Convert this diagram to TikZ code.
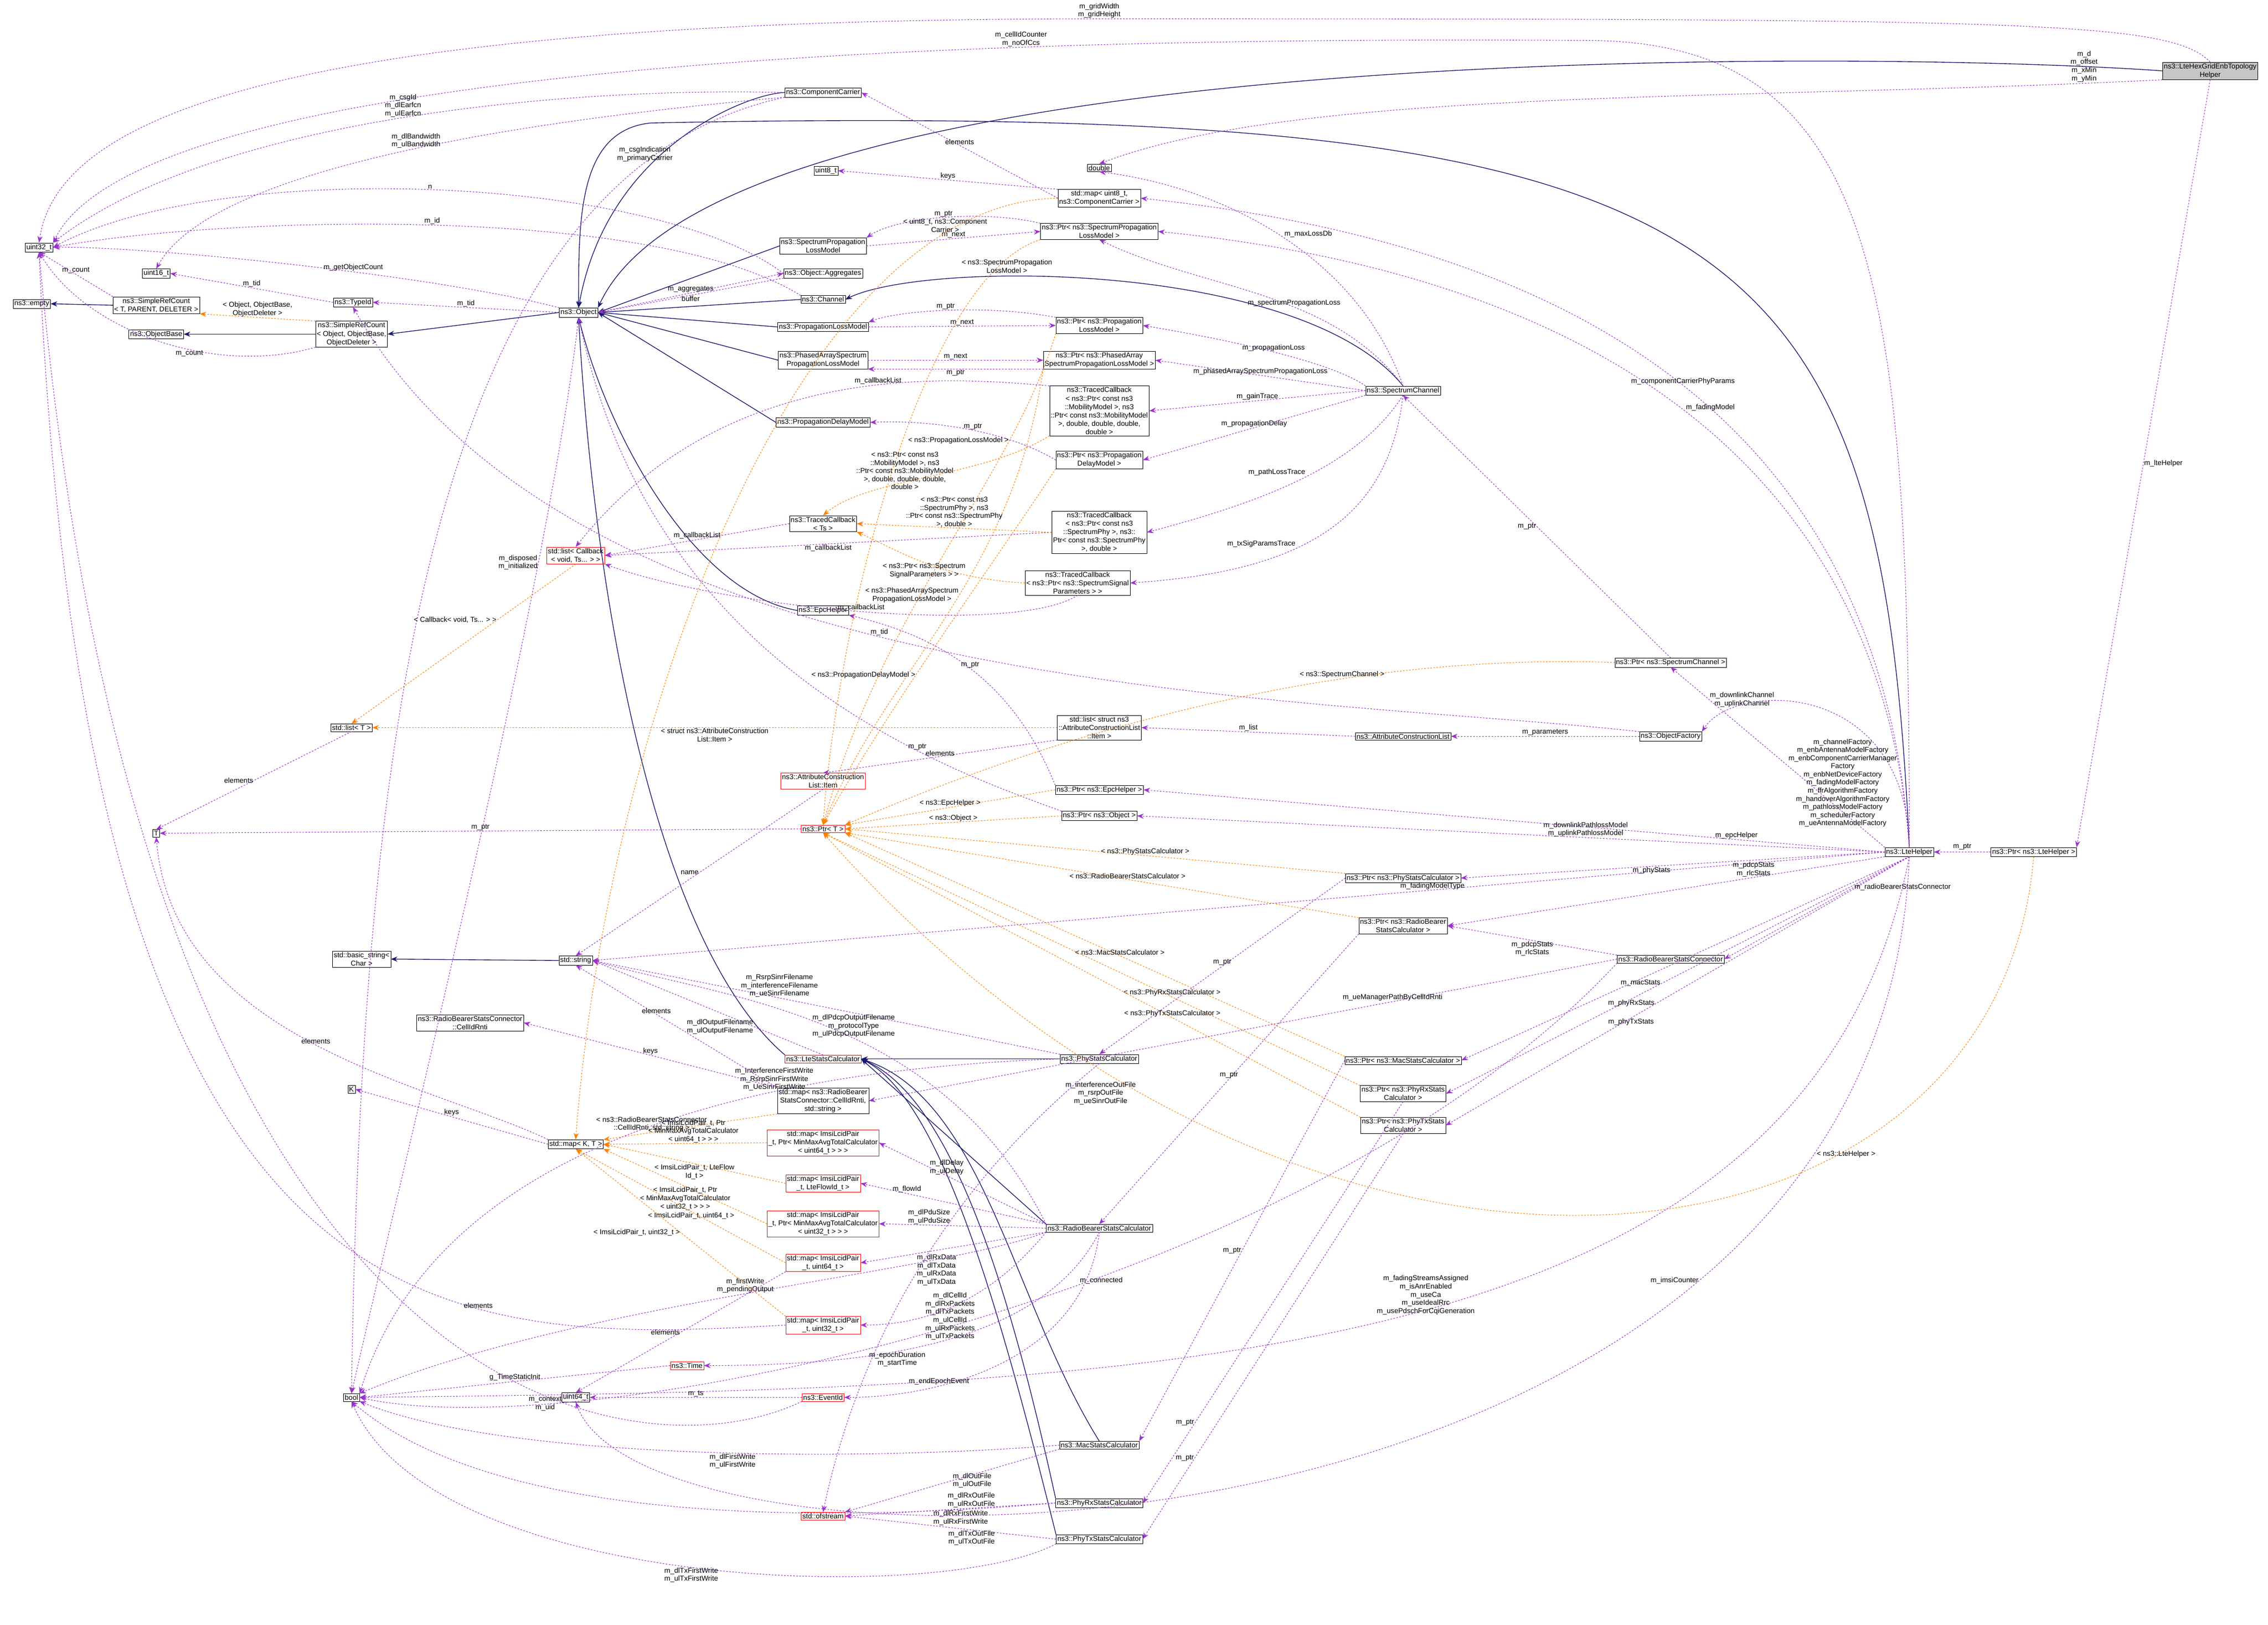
\documentclass[tikz,border=0pt]{standalone}
\usepackage{fontspec}
\setmainfont{Liberation Sans}
\usetikzlibrary{arrows.meta,positioning}
\tikzset{
  cls/.style={draw, fill=white, align=center, inner sep=2.5pt, font=\fontsize{14}{16.5}\selectfont},
  redcls/.style={cls, draw=red},
  topcls/.style={cls, fill=gray!45},
  inh/.style={draw={rgb,255:red,25;green,25;blue,112}, line width=1.4pt, -{Stealth[length=13pt,width=10pt]}},
  use/.style={draw={rgb,255:red,154;green,50;blue,205}, dashed, line width=1.1pt, -{Stealth[length=13pt,width=10pt]}},
  tpl/.style={draw=orange, dashed, line width=1.1pt, -{Stealth[length=13pt,width=10pt]}},
  lbl/.style={font=\fontsize{14}{16}\selectfont, align=center, inner sep=1pt}
}
\begin{document}
\begin{tikzpicture}[x=1mm, y=-1mm]
\useasboundingbox (0,0) rectangle (1568,1123);

% left column
\node[topcls] (hex) at (1528,49) {ns3::LteHexGridEnbTopology\\Helper};
\node[cls] (u32) at (27,171) {uint32\_t};
\node[cls] (empty) at (22,210) {ns3::empty};
\node[cls] (u16) at (108,189) {uint16\_t};
\node[cls] (srcT) at (108,211) {ns3::SimpleRefCount\\< T, PARENT, DELETER >};
\node[cls] (obase) at (108,231) {ns3::ObjectBase};
\node[cls] (srcO) at (243,231) {ns3::SimpleRefCount\\< Object, ObjectBase,\\ObjectDeleter >};
\node[cls] (tid) at (244,209) {ns3::TypeId};
\node[cls] (obj) at (400,216) {ns3::Object};
\node[cls] (lstT) at (243,503) {std::list< T >};
\node[cls] (T) at (108,576) {T};
\node[cls] (bstr) at (250,663) {std::basic\_string<\\Char >};
\node[cls] (str) at (398,664) {std::string};
\node[cls] (cir) at (325,707) {ns3::RadioBearerStatsConnector\\::CellIdRnti};
\node[cls] (K) at (243,753) {K};
\node[cls] (mapKT) at (398,791) {std::map< K, T >};
\node[cls] (bool) at (243,966) {bool};
\node[cls] (u64) at (398,966) {uint64\_t};
\node[redcls] (cblist) at (398,384) {std::list< Callback\\< void, Ts... > >};
\node[redcls] (time) at (475,944) {ns3::Time};

% middle column
\node[cls] (cc) at (569,64) {ns3::ComponentCarrier};
\node[cls] (u8) at (571,118) {uint8\_t};
\node[cls] (splm) at (569,170) {ns3::SpectrumPropagation\\LossModel};
\node[cls] (aggr) at (569,189) {ns3::Object::Aggregates};
\node[cls] (chan) at (569,207) {ns3::Channel};
\node[cls] (plm) at (569,226) {ns3::PropagationLossModel};
\node[cls] (pa) at (569,249) {ns3::PhasedArraySpectrum\\PropagationLossModel};
\node[cls] (pdm) at (569,292) {ns3::PropagationDelayModel};
\node[cls] (tcTs) at (569,362) {ns3::TracedCallback\\< Ts >};
\node[cls] (epc) at (569,422) {ns3::EpcHelper};
\node[redcls] (acli) at (569,540) {ns3::AttributeConstruction\\List::Item};
\node[redcls] (ptrT) at (569,573) {ns3::Ptr< T >};
\node[redcls] (lsc) at (569,732) {ns3::LteStatsCalculator};
\node[cls] (mapCir) at (569,761) {std::map< ns3::RadioBearer\\StatsConnector::CellIdRnti,\\std::string >};
\node[redcls] (mapMM64) at (569,790) {std::map< ImsiLcidPair\\\_t, Ptr< MinMaxAvgTotalCalculator\\< uint64\_t > > >};
\node[redcls] (mapFlow) at (569,818) {std::map< ImsiLcidPair\\\_t, LteFlowId\_t >};
\node[redcls] (mapMM32) at (569,846) {std::map< ImsiLcidPair\\\_t, Ptr< MinMaxAvgTotalCalculator\\< uint32\_t > > >};
\node[redcls] (map64) at (569,873) {std::map< ImsiLcidPair\\\_t, uint64\_t >};
\node[redcls] (map32) at (569,916) {std::map< ImsiLcidPair\\\_t, uint32\_t >};
\node[redcls] (evt) at (569,966) {ns3::EventId};
\node[redcls] (ofs) at (569,1048) {std::ofstream};

% right-middle column
\node[cls] (dbl) at (760,116) {double};
\node[cls] (mapCC) at (760,137) {std::map< uint8\_t,\\ns3::ComponentCarrier >};
\node[cls] (psplm) at (760,160) {ns3::Ptr< ns3::SpectrumPropagation\\LossModel >};
\node[cls] (pplm) at (760,225) {ns3::Ptr< ns3::Propagation\\LossModel >};
\node[cls] (ppa) at (760,249) {ns3::Ptr< ns3::PhasedArray\\SpectrumPropagationLossModel >};
\node[cls] (tcMob) at (760,284) {ns3::TracedCallback\\< ns3::Ptr< const ns3\\::MobilityModel >, ns3\\::Ptr< const ns3::MobilityModel\\>, double, double, double,\\double >};
\node[cls] (ppdm) at (760,318) {ns3::Ptr< ns3::Propagation\\DelayModel >};
\node[cls] (tcPhy) at (760,368) {ns3::TracedCallback\\< ns3::Ptr< const ns3\\::SpectrumPhy >, ns3::\\Ptr< const ns3::SpectrumPhy\\>, double >};
\node[cls] (tcSig) at (745,403) {ns3::TracedCallback\\< ns3::Ptr< ns3::SpectrumSignal\\Parameters > >};
\node[cls] (lstAcl) at (760,503) {std::list< struct ns3\\::AttributeConstructionList\\::Item >};
\node[cls] (pepc) at (760,546) {ns3::Ptr< ns3::EpcHelper >};
\node[cls] (pobj) at (760,564) {ns3::Ptr< ns3::Object >};
\node[cls] (phys) at (760,732) {ns3::PhyStatsCalculator};
\node[cls] (rbsc) at (760,849) {ns3::RadioBearerStatsCalculator};
\node[cls] (macs) at (760,999) {ns3::MacStatsCalculator};
\node[cls] (phyrx) at (760,1039) {ns3::PhyRxStatsCalculator};
\node[cls] (phytx) at (760,1064) {ns3::PhyTxStatsCalculator};

% right column
\node[cls] (sch) at (970,270) {ns3::SpectrumChannel};
\node[cls] (acl) at (970,509) {ns3::AttributeConstructionList};
\node[cls] (pphys) at (970,607) {ns3::Ptr< ns3::PhyStatsCalculator >};
\node[cls] (prbsc) at (970,640) {ns3::Ptr< ns3::RadioBearer\\StatsCalculator >};
\node[cls] (pmacs) at (970,733) {ns3::Ptr< ns3::MacStatsCalculator >};
\node[cls] (pphyrx) at (970,756) {ns3::Ptr< ns3::PhyRxStats\\Calculator >};
\node[cls] (pphytx) at (970,778) {ns3::Ptr< ns3::PhyTxStats\\Calculator >};
\node[cls] (psch) at (1155,458) {ns3::Ptr< ns3::SpectrumChannel >};
\node[cls] (ofac) at (1155,509) {ns3::ObjectFactory};
\node[cls] (rbscon) at (1155,663) {ns3::RadioBearerStatsConnector};
\node[cls] (lte) at (1320,589) {ns3::LteHelper};
\node[cls] (plte) at (1406,589) {ns3::Ptr< ns3::LteHelper >};

% inheritance
\draw[inh] (hex.west) .. controls (1300,35) and (500,25) .. (obj.north east);
\draw[inh] (lte.north) .. controls (1300,150) and (1200,70) .. (450,85) .. controls (400,90) and (400,150) .. (obj.north);
\draw[inh] (cc.west) .. controls (520,64) and (420,100) .. (obj.north);
\draw[inh] (splm.west) -- (obj.east);
\draw[inh] (chan.west) -- (obj.east);
\draw[inh] (plm.west) -- (obj.east);
\draw[inh] (pa.west) -- (obj.east);
\draw[inh] (pdm.west) -- (obj.east);
\draw[inh] (epc.west) .. controls (480,410) and (420,300) .. (obj.south);
\draw[inh] (lsc.north west) .. controls (450,650) and (410,400) .. (obj.south);
\draw[inh] (sch.north) .. controls (900,180) and (640,180) .. (chan.east);
\draw[inh] (obj.west) -- (srcO.east);
\draw[inh] (srcO.west) -- (obase.east);
\draw[inh] (srcT.west) -- (empty.east);
\draw[inh] (str.west) -- (bstr.east);
\draw[inh] (phys.west) -- (lsc.east);
\draw[inh] (rbsc.north west) -- (lsc.east);
\draw[inh] (macs.north) .. controls (700,900) and (680,760) .. (lsc.east);
\draw[inh] (phyrx.north west) .. controls (700,900) and (660,760) .. (lsc.east);
\draw[inh] (phytx.north west) .. controls (690,900) and (650,760) .. (lsc.east);

% usage
\draw[use] (hex.north) .. controls (1500,14) and (1400,13) .. node[lbl, pos=1, above] {m\_gridWidth\\m\_gridHeight} (760,13) .. controls (200,13) and (40,80) .. (u32.north);
\draw[use] (hex.south west) .. controls (1200,70) and (900,60) .. node[lbl, pos=0.05, above left] {m\_d\\m\_offset\\m\_xMin\\m\_yMin} (dbl.north);
\draw[use] (hex.south) -- node[lbl, right, pos=0.5] {m\_lteHelper} (plte.north east);
\draw[use] (lte.north) .. controls (1320,200) and (1300,30) .. (1100,28) .. controls (700,25) and (100,40) .. node[lbl, pos=0.3, above] {m\_cellIdCounter\\m\_noOfCcs} (u32.north east);
\draw[use] (cc.west) .. controls (400,60) and (150,80) .. node[lbl, pos=0.5, above] {m\_csgId\\m\_dlEarfcn\\m\_ulEarfcn} (u32.north east);
\draw[use] (cc.south west) .. controls (400,80) and (150,110) .. node[lbl, pos=0.5, above] {m\_dlBandwidth\\m\_ulBandwidth} (u16.north);
\draw[use] (cc.south west) .. controls (300,120) and (250,500) .. node[lbl, pos=0.15, above] {m\_csgIndication\\m\_primaryCarrier} (bool.north);
\draw[use] (aggr.west) .. controls (450,120) and (150,110) .. node[lbl, pos=0.5, above] {n} (u32.east);
\draw[use] (chan.north west) .. controls (450,140) and (150,150) .. node[lbl, pos=0.5, above] {m\_id} (u32.east);
\draw[use] (obj.north west) .. controls (300,190) and (100,170) .. node[lbl, pos=0.4, above] {m\_getObjectCount} (u32.east);
\draw[use] (obj.west) -- node[lbl, above] {m\_tid} (tid.east);
\draw[use] (obj.east) -- node[lbl, above] {m\_aggregates} (aggr.west);
\draw[use] (aggr.south west) -- node[lbl, below] {buffer} (obj.east);
\draw[use] (tid.west) -- node[lbl, above] {m\_tid} (u16.east);
\draw[use] (srcT.north west) -- node[lbl, above] {m\_count} (u32.south);
\draw[use] (srcO.south west) .. controls (150,260) and (60,230) .. node[lbl, pos=0.4, below] {m\_count} (u32.south);
\draw[use] (obj.south) .. controls (380,400) and (280,800) .. node[lbl, pos=0.25, left] {m\_disposed\\m\_initialized} (bool.north);
\draw[use] (mapCC.west) -- node[lbl, above] {elements} (cc.east);
\draw[use] (mapCC.north west) -- node[lbl, above] {keys} (u8.east);
\draw[use] (splm.east) -- node[lbl, above] {m\_next} (psplm.west);
\draw[use] (psplm.north west) .. controls (680,145) and (620,150) .. node[lbl, above] {m\_ptr} (splm.north east);
\draw[use] (plm.east) -- node[lbl, above] {m\_next} (pplm.west);
\draw[use] (pplm.north west) .. controls (680,210) and (620,215) .. node[lbl, above] {m\_ptr} (plm.north east);
\draw[use] (pa.east) -- node[lbl, above] {m\_next} (ppa.west);
\draw[use] (ppa.south west) -- node[lbl, below] {m\_ptr} (pa.south east);
\draw[use] (ppdm.west) .. controls (700,300) and (650,290) .. node[lbl, above] {m\_ptr} (pdm.east);
\draw[use] (sch.north) .. controls (940,180) and (850,130) .. node[lbl, pos=0.5, above right] {m\_maxLossDb} (dbl.south);
\draw[use] (sch.north) .. controls (920,200) and (830,200) .. node[lbl, pos=0.4, above] {m\_spectrumPropagationLoss} (psplm.south);
\draw[use] (sch.north west) .. controls (920,250) and (850,235) .. node[lbl, above] {m\_propagationLoss} (pplm.east);
\draw[use] (sch.west) -- node[lbl, above] {m\_phasedArraySpectrumPropagationLoss} (ppa.east);
\draw[use] (sch.west) -- node[lbl, above] {m\_gainTrace} (tcMob.east);
\draw[use] (sch.south west) -- node[lbl, above] {m\_propagationDelay} (ppdm.east);
\draw[use] (sch.south) .. controls (940,320) and (880,345) .. node[lbl, above left] {m\_pathLossTrace} (tcPhy.east);
\draw[use] (sch.south) .. controls (960,360) and (900,395) .. node[lbl, pos=0.6, above left] {m\_txSigParamsTrace} (tcSig.east);
\draw[use] (tcMob.north west) .. controls (650,260) and (500,250) .. node[lbl, pos=0.4, above] {m\_callbackList} (cblist.north);
\draw[use] (tcTs.west) -- node[lbl, above] {m\_callbackList} (cblist.east);
\draw[use] (tcPhy.west) -- node[lbl, below] {m\_callbackList} (cblist.east);
\draw[use] (tcSig.south) .. controls (700,440) and (500,420) .. node[lbl, pos=0.5, above] {m\_callbackList} (cblist.south east);
\draw[use] (psch.north) -- node[lbl, pos=0.5, left] {m\_ptr} (sch.south);
\draw[use] (lte.north west) -- node[lbl, pos=0.82, right] {m\_downlinkChannel\\m\_uplinkChannel} (psch.south);
\draw[use] (lte.north) .. controls (1318,470) and (1200,470) .. node[lbl, pos=0.15, anchor=east] {m\_channelFactory\\m\_enbAntennaModelFactory\\m\_enbComponentCarrierManager\\Factory\\m\_enbNetDeviceFactory\\m\_fadingModelFactory\\m\_ffrAlgorithmFactory\\m\_handoverAlgorithmFactory\\m\_pathlossModelFactory\\m\_schedulerFactory\\m\_ueAntennaModelFactory} (ofac.north east);
\draw[use] (ofac.north west) .. controls (900,480) and (400,485) .. node[lbl, pos=0.55, above] {m\_tid} (tid.south);
\draw[use] (ofac.west) -- node[lbl, above] {m\_parameters} (acl.east);
\draw[use] (acl.west) -- node[lbl, above] {m\_list} (lstAcl.east);
\draw[use] (lstAcl.south west) -- node[lbl, above] {elements} (acli.north);
\draw[use] (acli.south) -- node[lbl, left] {name} (str.north);
\draw[use] (lstT.south) -- node[lbl, left] {elements} (T.north);
\draw[use] (ptrT.west) -- node[lbl, above] {m\_ptr} (T.east);
\draw[use] (pepc.north west) .. controls (700,470) and (650,440) .. node[lbl, above] {m\_ptr} (epc.south east);
\draw[use] (pobj.north west) .. controls (650,530) and (450,460) .. node[lbl, pos=0.3, above] {m\_ptr} (obj.south);
\draw[use] (lte.west) -- node[lbl, above, pos=0.2] {m\_epcHelper} (pepc.east);
\draw[use] (lte.west) -- node[lbl, above, pos=0.4] {m\_downlinkPathlossModel\\m\_uplinkPathlossModel} (pobj.east);
\draw[use] (lte.west) -- node[lbl, above, pos=0.35] {m\_fadingModelType} (str.east);
\draw[use] (lte.west) -- node[lbl, below, pos=0.55] {m\_phyStats} (pphys.east);
\draw[use] (lte.south west) -- node[lbl, above, pos=0.3] {m\_pdcpStats\\m\_rlcStats} (prbsc.east);
\draw[use] (lte.south) -- node[lbl, right, pos=0.3] {m\_radioBearerStatsConnector} (rbscon.east);
\draw[use] (lte.south) -- node[lbl, below, pos=0.6] {m\_macStats} (pmacs.east);
\draw[use] (lte.south) -- node[lbl, below, pos=0.6] {m\_phyRxStats} (pphyrx.east);
\draw[use] (lte.south) -- node[lbl, below, pos=0.6] {m\_phyTxStats} (pphytx.east);
\draw[use] (lte.north) .. controls (1300,300) and (1100,170) .. node[lbl, pos=0.5, above] {m\_componentCarrierPhyParams} (mapCC.east);
\draw[use] (lte.north) .. controls (1300,320) and (1100,190) .. node[lbl, pos=0.5, above right] {m\_fadingModel} (psplm.east);
\draw[use] (lte.south) .. controls (1250,950) and (800,960) .. node[lbl, pos=0.45, left] {m\_fadingStreamsAssigned\\m\_isAnrEnabled\\m\_useCa\\m\_useIdealRrc\\m\_usePdschForCqiGeneration} (bool.east);
\draw[use] (lte.south) .. controls (1300,1100) and (450,1110) .. node[lbl, pos=0.25, left] {m\_imsiCounter} (u64.south);
\draw[use] (plte.west) -- node[lbl, above=3pt] {m\_ptr} (lte.east);
\draw[use] (rbscon.north west) -- node[lbl, below] {m\_pdcpStats\\m\_rlcStats} (prbsc.east);
\draw[use] (rbscon.west) -- node[lbl, above, pos=0.3] {m\_ueManagerPathByCellIdRnti} (mapCir.east);
\draw[use] (rbscon.south west) .. controls (900,900) and (400,1000) .. node[lbl, pos=0.4, below] {m\_connected} (bool.east);
\draw[use] (pphys.west) -- node[lbl, above] {m\_ptr} (phys.north);
\draw[use] (prbsc.south west) -- node[lbl, above] {m\_ptr} (rbsc.north);
\draw[use] (pmacs.west) -- node[lbl, left, pos=0.5] {m\_ptr} (macs.north east);
\draw[use] (pphyrx.south) -- node[lbl, left, pos=0.8] {m\_ptr} (phyrx.east);
\draw[use] (pphytx.south) -- node[lbl, left, pos=0.8] {m\_ptr} (phytx.east);
\draw[use] (lsc.north) -- node[lbl, left, pos=0.3] {m\_dlOutputFilename\\m\_ulOutputFilename} (str.east);
\draw[use] (phys.north west) -- node[lbl, above, pos=0.6] {m\_RsrpSinrFilename\\m\_interferenceFilename\\m\_ueSinrFilename} (str.east);
\draw[use] (phys.west) .. controls (500,740) and (300,800) .. node[lbl, pos=0.3, above] {m\_InterferenceFirstWrite\\m\_RsrpSinrFirstWrite\\m\_UeSinrFirstWrite} (bool.north east);
\draw[use] (phys.south) .. controls (680,800) and (600,900) .. node[lbl, pos=0.1, right] {m\_interferenceOutFile\\m\_rsrpOutFile\\m\_ueSinrOutFile} (ofs.north);
\draw[use] (rbsc.north west) .. controls (650,700) and (500,690) .. node[lbl, pos=0.45, above] {m\_dlPdcpOutputFilename\\m\_protocolType\\m\_ulPdcpOutputFilename} (str.east);
\draw[use] (rbsc.north west) -- node[lbl, right, pos=0.7] {m\_dlDelay\\m\_ulDelay} (mapMM64.east);
\draw[use] (rbsc.north west) -- node[lbl, above, pos=0.75] {m\_flowId} (mapFlow.east);
\draw[use] (rbsc.west) -- node[lbl, above, pos=0.7] {m\_dlPduSize\\m\_ulPduSize} (mapMM32.east);
\draw[use] (rbsc.south west) -- node[lbl, below right, pos=0.7] {m\_dlRxData\\m\_dlTxData\\m\_ulRxData\\m\_ulTxData} (map64.east);
\draw[use] (rbsc.south west) .. controls (700,880) and (660,916) .. node[lbl, right, pos=0.75] {m\_dlCellId\\m\_dlRxPackets\\m\_dlTxPackets\\m\_ulCellId\\m\_ulRxPackets\\m\_ulTxPackets} (map32.east);
\draw[use] (rbsc.south) .. controls (720,930) and (600,944) .. node[lbl, below, pos=0.6] {m\_epochDuration\\m\_startTime} (time.east);
\draw[use] (rbsc.south) .. controls (750,940) and (650,966) .. node[lbl, above, pos=0.7] {m\_endEpochEvent} (evt.east);
\draw[use] (rbsc.south west) .. controls (650,880) and (400,900) .. node[lbl, pos=0.5, above] {m\_firstWrite\\m\_pendingOutput} (bool.north east);
\draw[use] (mapCir.north west) -- node[lbl, above] {keys} (cir.east);
\draw[use] (mapCir.north west) -- node[lbl, above, pos=0.6] {elements} (str.south);
\draw[use] (mapKT.west) -- node[lbl, above] {keys} (K.east);
\draw[use] (mapKT.north west) .. controls (300,750) and (120,720) .. node[lbl, pos=0.5, above] {elements} (T.south);
\draw[use] (map32.west) .. controls (300,930) and (60,930) .. node[lbl, pos=0.3, above] {elements} (u32.south);
\draw[use] (map64.south west) -- node[lbl, left] {elements} (u64.north);
\draw[use] (time.west) -- node[lbl, above] {g\_TimeStaticInit} (bool.east);
\draw[use] (evt.west) -- node[lbl, above] {m\_ts} (u64.east);
\draw[use] (evt.south west) .. controls (450,1020) and (100,1000) .. node[lbl, pos=0.35, below] {m\_context\\m\_uid} (u32.south);
\draw[use] (macs.west) .. controls (600,1010) and (350,1010) .. node[lbl, pos=0.45, below] {m\_dlFirstWrite\\m\_ulFirstWrite} (bool.south east);
\draw[use] (macs.south west) -- node[lbl, right] {m\_dlOutFile\\m\_ulOutFile} (ofs.north east);
\draw[use] (phyrx.west) .. controls (600,1050) and (350,1060) .. node[lbl, pos=0.15, below] {m\_dlRxFirstWrite\\m\_ulRxFirstWrite} (bool.south);
\draw[use] (phyrx.west) -- node[lbl, above, pos=0.4] {m\_dlRxOutFile\\m\_ulRxOutFile} (ofs.east);
\draw[use] (phytx.south west) .. controls (650,1110) and (300,1100) .. node[lbl, pos=0.5, below] {m\_dlTxFirstWrite\\m\_ulTxFirstWrite} (bool.south);
\draw[use] (phytx.west) -- node[lbl, below, pos=0.4] {m\_dlTxOutFile\\m\_ulTxOutFile} (ofs.east);

% templates
\draw[tpl] (mapCC.west) .. controls (550,140) and (420,500) .. node[lbl, pos=0.15, above] {< uint8\_t, ns3::Component\\Carrier >} (mapKT.north);
\draw[tpl] (psplm.south west) .. controls (640,190) and (580,420) .. node[lbl, pos=0.1, below] {< ns3::SpectrumPropagation\\LossModel >} (ptrT.north);
\draw[tpl] (pplm.south west) .. controls (700,330) and (610,420) .. node[lbl, pos=0.25, left] {< ns3::PropagationLossModel >} (ptrT.north);
\draw[tpl] (ppa.south west) .. controls (700,400) and (615,460) .. node[lbl, pos=0.45, left] {< ns3::PhasedArraySpectrum\\PropagationLossModel >} (ptrT.north);
\draw[tpl] (ppdm.south west) .. controls (680,400) and (620,480) .. node[lbl, pos=0.6, left] {< ns3::PropagationDelayModel >} (ptrT.north);
\draw[tpl] (tcMob.south west) .. controls (680,330) and (600,330) .. node[lbl, pos=0.4, left] {< ns3::Ptr< const ns3\\::MobilityModel >, ns3\\::Ptr< const ns3::MobilityModel\\>, double, double, double,\\double >} (tcTs.north);
\draw[tpl] (tcPhy.west) -- node[lbl, pos=0.5, above] {< ns3::Ptr< const ns3\\::SpectrumPhy >, ns3\\::Ptr< const ns3::SpectrumPhy\\>, double >} (tcTs.east);
\draw[tpl] (tcSig.west) .. controls (650,400) and (620,380) .. node[lbl, pos=0.5, below] {< ns3::Ptr< ns3::Spectrum\\SignalParameters > >} (tcTs.south east);
\draw[tpl] (cblist.south) -- node[lbl, pos=0.35, left] {< Callback< void, Ts... > >} (lstT.north);
\draw[tpl] (lstAcl.west) -- node[lbl, pos=0.5, below] {< struct ns3::AttributeConstruction\\List::Item >} (lstT.east);
\draw[tpl] (psch.west) .. controls (900,450) and (700,520) .. node[lbl, pos=0.3, above] {< ns3::SpectrumChannel >} (ptrT.north east);
\draw[tpl] (pepc.west) -- node[lbl, above] {< ns3::EpcHelper >} (ptrT.north east);
\draw[tpl] (pobj.west) -- node[lbl, above] {< ns3::Object >} (ptrT.east);
\draw[tpl] (pphys.north west) -- node[lbl, pos=0.4, above] {< ns3::PhyStatsCalculator >} (ptrT.east);
\draw[tpl] (prbsc.north west) -- node[lbl, pos=0.45, above] {< ns3::RadioBearerStatsCalculator >} (ptrT.south east);
\draw[tpl] (pmacs.north west) -- node[lbl, pos=0.45, above] {< ns3::MacStatsCalculator >} (ptrT.south east);
\draw[tpl] (pphyrx.north west) -- node[lbl, pos=0.35, above] {< ns3::PhyRxStatsCalculator >} (ptrT.south);
\draw[tpl] (pphytx.north west) -- node[lbl, pos=0.35, above] {< ns3::PhyTxStatsCalculator >} (ptrT.south);
\draw[tpl] (plte.south) .. controls (1380,900) and (900,950) .. node[lbl, pos=0.3, below] {< ns3::LteHelper >} (ptrT.south);
\draw[tpl] (srcO.north west) -- node[lbl, pos=0.5, above] {< Object, ObjectBase,\\ObjectDeleter >} (srcT.south east);
\draw[tpl] (mapCir.south west) -- node[lbl, pos=0.4, left] {< ns3::RadioBearerStatsConnector\\::CellIdRnti, std::string >} (mapKT.north east);
\draw[tpl] (mapMM64.west) -- node[lbl, pos=0.45, above] {< ImsiLcidPair\_t, Ptr\\< MinMaxAvgTotalCalculator\\< uint64\_t > > >} (mapKT.east);
\draw[tpl] (mapFlow.west) -- node[lbl, pos=0.5, below] {< ImsiLcidPair\_t, LteFlow\\Id\_t >} (mapKT.east);
\draw[tpl] (mapMM32.west) -- node[lbl, pos=0.5, below] {< ImsiLcidPair\_t, Ptr\\< MinMaxAvgTotalCalculator\\< uint32\_t > > >} (mapKT.south east);
\draw[tpl] (map64.west) -- node[lbl, pos=0.45, below] {< ImsiLcidPair\_t, uint64\_t >} (mapKT.south);
\draw[tpl] (map32.north west) -- node[lbl, pos=0.5, left] {< ImsiLcidPair\_t, uint32\_t >} (mapKT.south);
\end{tikzpicture}
\end{document}
